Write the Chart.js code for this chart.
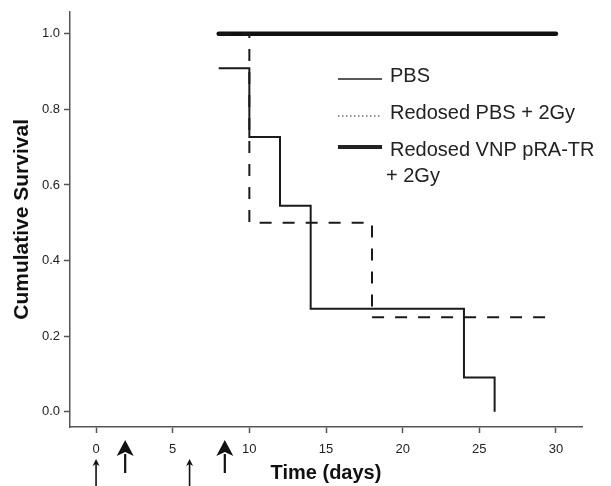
<!DOCTYPE html>
<html>
<head>
<meta charset="utf-8">
<script src="https://cdn.jsdelivr.net/npm/chart.js@4"></script>
<style>
  html, body { margin: 0; background: #fff; }
</style>
</head>
<body>
<canvas id="myChart" width="611" height="486"></canvas>
<script>
const ctx = document.getElementById('myChart');

// Kaplan-Meier steps (day of event, survival after it)
const pbsDays = [8, 10, 12, 14, 24, 26];
const pbsSurvival = [0.909, 0.727, 0.545, 0.273, 0.091, 0];
const redosedPbsDays = [8, 10, 18, 30];
const redosedPbsSurvival = [1, 0.5, 0.25, 0.25];
const vnpDays = [8, 30];
const vnpSurvival = [1, 1];

const xTicks = [0, 5, 10, 15, 20, 25, 30];
const yTicks = [0, 0.2, 0.4, 0.6, 0.8, 1.0];

// treatment arrows under the axis
const smallArrowDays = [0, 6.1];
const bigArrowDays = [1.9, 8.4];

const legendText = [['PBS'], ['Redosed PBS + 2Gy'], ['Redosed VNP pRA-TR', '+ 2Gy']];

const toPoints = (xs, ys) => xs.map((x, i) => ({ x: x, y: ys[i] }));

Chart.defaults.font.family = '"Liberation Sans", Arial, sans-serif';

const legendPlugin = {
    id: 'kmLegend',
    afterDatasetsDraw(chart) {
        const c = chart.ctx;
        const rows = [76, 113, 150];
        const sampleY = [79, 116, 147];
        const sampleWidth = [1.5, 1.2, 4];
        c.save();
        c.font = '20px "Liberation Sans", Arial, sans-serif';
        c.fillStyle = '#222';
        c.textBaseline = 'middle';
        chart.data.datasets.forEach((ds, i) => {
            c.beginPath();
            c.strokeStyle = '#222';
            c.lineWidth = sampleWidth[i];
            c.setLineDash(i === 1 ? [1.5, 2.5] : []);
            c.moveTo(338, sampleY[i]);
            c.lineTo(382, sampleY[i]);
            c.stroke();
            legendText[i].forEach((t, j) => {
                c.fillText(t, j === 0 ? 390 : 386, rows[i] + j * 26);
            });
        });
        c.restore();
    }
};

function drawArrow(c, x, tip, bottom, half, headLen, notch, shaft) {
    c.beginPath();
    c.lineWidth = shaft;
    c.moveTo(x, tip + headLen - 2);
    c.lineTo(x, bottom);
    c.stroke();
    c.beginPath();
    c.moveTo(x, tip);
    c.lineTo(x + half, tip + headLen);
    c.lineTo(x, tip + headLen - notch);
    c.lineTo(x - half, tip + headLen);
    c.closePath();
    c.fill();
}

const arrowPlugin = {
    id: 'arrows',
    afterDraw(chart) {
        const c = chart.ctx;
        const xs = chart.scales.x;
        c.save();
        c.strokeStyle = '#111';
        c.fillStyle = '#111';
        smallArrowDays.forEach(d => drawArrow(c, xs.getPixelForValue(d), 459, 486, 3.5, 7, 2, 1.6));
        bigArrowDays.forEach(d => drawArrow(c, xs.getPixelForValue(d), 440, 473, 8.5, 16, 4, 2.2));
        c.restore();
    }
};

const chart = new Chart(ctx, {
    type: 'line',
    data: {
        datasets: [
            {
                label: 'PBS',
                data: toPoints(pbsDays, pbsSurvival),
                stepped: true,
                borderColor: '#1a1a1a',
                borderWidth: 2,
                pointRadius: 0,
                fill: false
            },
            {
                label: 'Redosed PBS + 2Gy',
                data: toPoints(redosedPbsDays, redosedPbsSurvival),
                stepped: true,
                borderColor: '#1a1a1a',
                borderWidth: 2,
                borderDash: [12, 11],
                pointRadius: 0,
                fill: false
            },
            {
                label: 'Redosed VNP pRA-TR + 2Gy',
                data: toPoints(vnpDays, vnpSurvival),
                stepped: true,
                borderColor: '#111',
                borderWidth: 4.5,
                borderCapStyle: 'round',
                pointRadius: 0,
                fill: false
            }
        ]
    },
    options: {
        responsive: false,
        animation: false,
        layout: { padding: { top: 10, right: 29, left: 0, bottom: 0 } },
        plugins: {
            legend: { display: false },
            tooltip: { enabled: false }
        },
        scales: {
            x: {
                type: 'linear',
                min: -1.7,
                max: 31.7,
                afterBuildTicks: s => { s.ticks = xTicks.map(v => ({ value: v })); },
                afterFit: s => { s.height = 59; },
                grid: { drawOnChartArea: false, tickLength: 6, tickColor: '#555', tickWidth: 1.5 },
                border: { color: '#555', width: 1.5 },
                ticks: { font: { size: 13 }, color: '#222', padding: 9, maxRotation: 0, autoSkip: false },
                title: {
                    display: true,
                    text: 'Time (days)',
                    font: { size: 20, weight: 'bold' },
                    color: '#111',
                    padding: { top: 0, bottom: 1 }
                }
            },
            y: {
                min: -0.04,
                max: 1.058,
                afterBuildTicks: s => { s.ticks = yTicks.map(v => ({ value: v })); },
                afterFit: s => { s.width = 70; },
                grid: { drawOnChartArea: false, tickLength: 6, tickColor: '#555', tickWidth: 1.5 },
                border: { color: '#555', width: 1.5 },
                ticks: {
                    font: { size: 13 },
                    color: '#222',
                    padding: 4,
                    callback: v => v.toFixed(1)
                },
                title: {
                    display: true,
                    text: 'Cumulative Survival',
                    font: { size: 21, weight: 'bold' },
                    color: '#111',
                    padding: { top: 10, bottom: 0 }
                }
            }
        }
    },
    plugins: [legendPlugin, arrowPlugin]
});
</script>
</body>
</html>
